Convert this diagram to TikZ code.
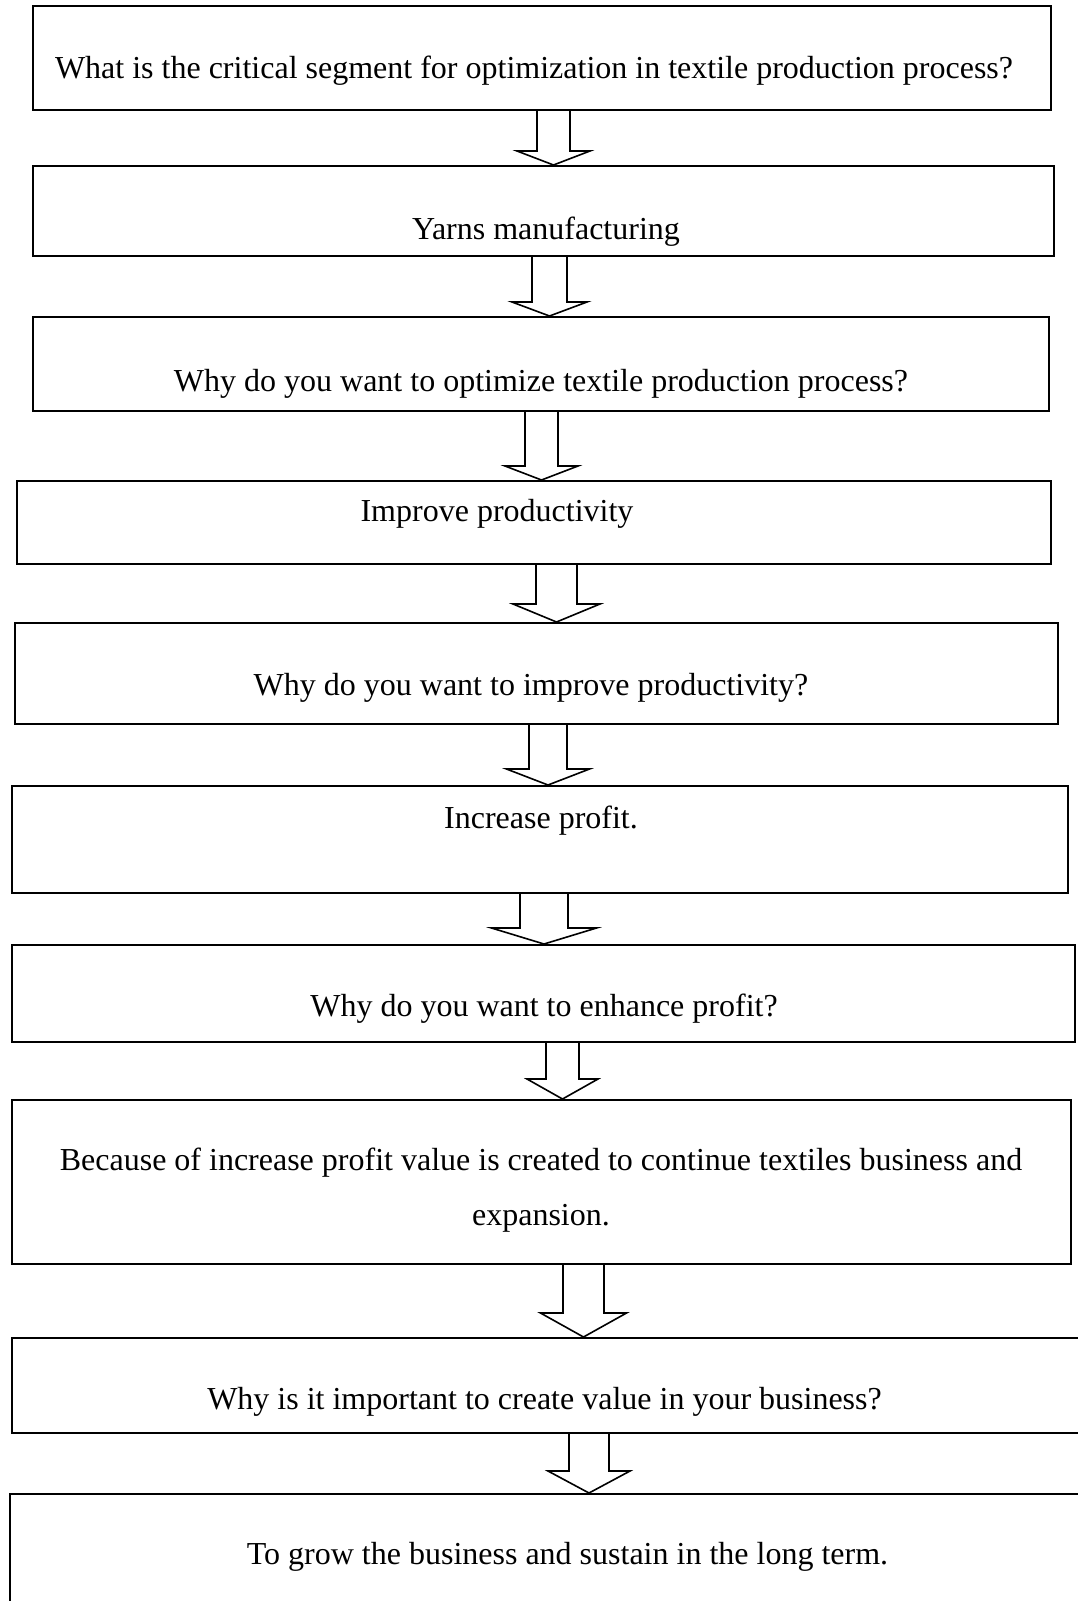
\documentclass[tikz,border=0pt]{standalone}
\usepackage{fontspec}
\setmainfont{Liberation Serif}
\usetikzlibrary{calc,fit}

\begin{document}
\begin{tikzpicture}[x=0.5pt,y=-0.5pt,
  box/.style={draw,line width=1pt,inner sep=0pt},
  txt/.style={font=\fontsize{16}{27.5}\selectfont,inner sep=0pt,align=center},
  hollow/.style={draw,line width=0.8pt,line join=miter}]
\useasboundingbox (0,0) rectangle (1077,1601);
% boxes
\node[box,fit={(33,6) (1051,110)}] (b1) {};
\node[box,fit={(33,166) (1054,256)}] (b2) {};
\node[box,fit={(33,317) (1049,411)}] (b3) {};
\node[box,fit={(17,481) (1051,564)}] (b4) {};
\node[box,fit={(15,623) (1058,724)}] (b5) {};
\node[box,fit={(12,786) (1068,893)}] (b6) {};
\node[box,fit={(12,945) (1075,1042)}] (b7) {};
\node[box,fit={(12,1100) (1071,1264)}] (b8) {};
\node[box,fit={(12,1338) (1090,1433)}] (b9) {};
\node[box,fit={(10,1494) (1090,1640)}] (b10) {};
% texts
\node[txt] (t1) at (534,71) {What is the critical segment for optimization in textile production process?};
\node[txt] (t2) at (546,232) {Yarns manufacturing};
\node[txt] (t3) at (541,384) {Why do you want to optimize textile production process?};
\node[txt] (t4) at (497,514) {Improve productivity};
\node[txt] (t5) at (531,688) {Why do you want to improve productivity?};
\node[txt] (t6) at (541,821) {Increase profit.};
\node[txt] (t7) at (544,1009) {Why do you want to enhance profit?};
\node[txt] (t8) at (541,1190) {Because of increase profit value is created to continue textiles business and\\expansion.};
\node[txt] (t9) at (544.5,1402) {Why is it important to create value in your business?};
\node[txt] (t10) at (567.5,1557) {To grow the business and sustain in the long term.};
% arrows
\foreach \a/\b/\cx/\sw/\hw/\hl in {b1/b2/553.5/16.5/36.5/14, b2/b3/549.5/17.5/37.5/14,
  b3/b4/541.5/16.5/36.5/14, b4/b5/556.5/20.5/43.5/18, b5/b6/548/19/41.5/16,
  b6/b7/544/24/52.5/16, b7/b8/562.5/16.5/35.5/20, b8/b9/583.5/20.5/43/24,
  b9/b10/589/20/41/22}
  \draw[hollow] let \p1=(\a.south), \p2=(\b.north) in
    ({\cx-\sw},\y1) -- ({\cx-\sw},{\y2+\hl*0.5pt}) -- ({\cx-\hw},{\y2+\hl*0.5pt})
    -- (\cx,\y2) -- ({\cx+\hw},{\y2+\hl*0.5pt}) -- ({\cx+\sw},{\y2+\hl*0.5pt})
    -- ({\cx+\sw},\y1);
\end{tikzpicture}
\end{document}
